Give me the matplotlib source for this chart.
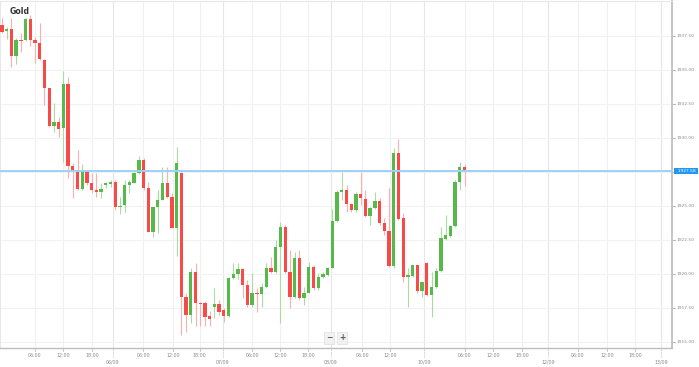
import numpy as np
import matplotlib
matplotlib.use("Agg")
import matplotlib.pyplot as plt

# ---- data (hourly candles) ----
opens = [1938.31, 1937.84, 1938.01, 1936.05, 1937.21, 1937.21, 1938.75, 1937.21, 1936.96, 1935.74,
         1933.65, 1930.91, 1931.20, 1930.71, 1933.97, 1927.96, 1927.52, 1926.25, 1927.52, 1926.67,
         1926.18, 1926.03, 1926.52, 1926.62, 1926.79, 1924.95, 1925.07, 1926.54, 1926.71, 1927.40,
         1928.38, 1926.30, 1923.11, 1924.90, 1925.44, 1926.67, 1925.64, 1923.41, 1927.45, 1918.33,
         1916.99, 1920.17, 1917.89, 1917.84, 1916.91, 1917.60, 1917.77, 1917.35, 1916.91, 1919.73,
         1919.98, 1920.34, 1919.16, 1917.69, 1918.63, 1918.51, 1919.07, 1920.42, 1920.17, 1922.01,
         1923.43, 1920.17, 1918.28, 1921.15, 1918.21, 1918.63, 1920.54, 1918.95, 1919.80, 1919.93,
         1920.47, 1923.90, 1926.05, 1926.18, 1925.15, 1924.71, 1925.86, 1925.51, 1924.29, 1924.88,
         1925.37, 1923.73, 1923.16, 1920.59, 1928.87, 1924.09, 1919.80, 1919.88, 1920.66, 1918.75,
         1920.83, 1918.46, 1919.07, 1920.22, 1922.55, 1922.79, 1923.53, 1926.74, 1927.84]
highs = [1938.80, 1938.19, 1938.80, 1937.33, 1937.70, 1938.80, 1939.04, 1937.45, 1938.43, 1935.78,
         1933.68, 1932.55, 1931.57, 1934.95, 1934.51, 1928.14, 1929.12, 1928.09, 1927.65, 1927.40,
         1927.45, 1926.67, 1926.79, 1926.91, 1926.91, 1925.68, 1926.91, 1926.91, 1927.52, 1928.67,
         1928.50, 1926.79, 1924.95, 1926.18, 1927.89, 1927.89, 1925.93, 1929.36, 1927.50, 1918.58,
         1920.42, 1920.83, 1917.97, 1918.01, 1917.28, 1918.95, 1918.09, 1917.48, 1919.80, 1920.78,
         1920.83, 1920.42, 1919.56, 1920.05, 1918.95, 1919.31, 1920.78, 1921.27, 1922.50, 1923.85,
         1923.60, 1921.76, 1921.64, 1921.76, 1919.07, 1920.91, 1920.66, 1920.05, 1920.17, 1920.54,
         1924.78, 1926.18, 1927.48, 1926.54, 1925.25, 1926.05, 1927.48, 1926.18, 1924.95, 1926.05,
         1925.56, 1924.09, 1926.30, 1929.24, 1929.93, 1924.46, 1920.42, 1920.66, 1920.66, 1919.44,
         1920.91, 1920.17, 1920.42, 1923.43, 1924.34, 1923.60, 1926.91, 1928.26, 1928.09]
lows = [1937.70, 1937.25, 1935.24, 1935.44, 1936.35, 1937.15, 1936.76, 1935.49, 1935.74, 1932.42,
        1930.83, 1930.46, 1930.10, 1928.26, 1927.03, 1925.56, 1926.18, 1926.18, 1926.54, 1925.98,
        1925.68, 1925.56, 1926.30, 1926.42, 1924.70, 1924.41, 1924.58, 1925.93, 1926.67, 1927.35,
        1926.18, 1923.11, 1922.74, 1923.04, 1925.44, 1925.56, 1923.36, 1921.32, 1915.51, 1915.76,
        1916.42, 1916.18, 1916.18, 1916.18, 1916.18, 1916.74, 1916.99, 1916.50, 1916.86, 1919.61,
        1919.61, 1918.21, 1917.60, 1917.60, 1917.23, 1917.60, 1918.95, 1920.05, 1920.05, 1916.40,
        1920.05, 1917.48, 1918.21, 1918.09, 1917.72, 1918.58, 1918.82, 1918.82, 1919.68, 1919.88,
        1920.42, 1923.85, 1925.44, 1924.58, 1924.58, 1924.58, 1925.07, 1924.22, 1923.60, 1924.75,
        1923.60, 1922.87, 1920.54, 1920.42, 1923.97, 1919.44, 1917.60, 1919.80, 1918.63, 1918.33,
        1918.38, 1916.86, 1918.95, 1920.17, 1922.50, 1922.74, 1923.48, 1926.18, 1926.47]
closes = [1937.82, 1937.99, 1936.05, 1937.21, 1937.13, 1938.75, 1937.21, 1936.96, 1935.78, 1933.65,
          1930.91, 1931.20, 1930.66, 1933.97, 1927.96, 1927.60, 1926.25, 1927.52, 1926.71, 1926.18,
          1926.03, 1926.22, 1926.67, 1926.79, 1924.95, 1925.02, 1926.54, 1926.74, 1927.40, 1928.38,
          1926.30, 1923.11, 1924.90, 1925.44, 1926.67, 1925.64, 1923.41, 1928.14, 1918.33, 1916.99,
          1920.17, 1917.84, 1917.79, 1916.86, 1916.69, 1917.77, 1917.23, 1916.91, 1919.68, 1919.98,
          1920.34, 1919.16, 1917.69, 1918.58, 1918.51, 1919.07, 1920.42, 1920.17, 1922.01, 1923.43,
          1920.17, 1918.28, 1921.15, 1918.21, 1918.63, 1920.54, 1918.95, 1919.80, 1919.98, 1920.47,
          1923.90, 1926.05, 1926.18, 1925.15, 1924.71, 1925.86, 1925.56, 1924.29, 1924.88, 1925.37,
          1923.73, 1923.16, 1920.59, 1928.87, 1924.04, 1919.75, 1919.93, 1920.66, 1918.75, 1919.39,
          1918.46, 1919.07, 1920.22, 1922.62, 1922.87, 1923.53, 1926.74, 1927.84, 1927.58]

# x-axis ticks (in candle-index units) and their labels
tick_pos = [7.0, 12.9, 19.1, 23.5, 29.9, 36.2, 41.9, 46.8, 53.0, 58.9, 64.8, 69.7,
            76.3, 82.2, 89.4, 98.1, 104.0, 110.2, 115.7, 122.0, 128.2, 134.1, 139.6]
tick_labels = ["06:00", "12:00", "18:00", "06/09", "06:00", "12:00", "18:00", "07/09",
               "06:00", "12:00", "18:00", "08/09", "06:00", "12:00", "10/09", "06:00",
               "12:00", "18:00", "12/09", "06:00", "12:00", "18:00", "13/09"]
y_ticks = [1915.0, 1917.5, 1920.0, 1922.5, 1925.0, 1927.5, 1930.0, 1932.5, 1935.0, 1937.5]
title = "Gold"
last_label = "1927.58"

# ---- drawing ----
W, H = 699, 367
fig = plt.figure(figsize=(W / 100, H / 100), dpi=100)
ax = fig.add_axes([0.0, 1 - 348 / H, 672 / W, 347 / H])

o = np.array(opens); c = np.array(closes); hi = np.array(highs); lo = np.array(lows)
x = np.arange(len(o))
up = c >= o
green, red = "#56b94a", "#f94a4a"
green_w, red_w = "#a9dba2", "#fbb0b0"

ax.vlines(x[up], lo[up], hi[up], color=green_w, lw=0.8, zorder=2)
ax.vlines(x[~up], lo[~up], hi[~up], color=red_w, lw=0.8, zorder=2)
body_h = np.maximum(np.abs(c - o), 0.08)
body_b = np.minimum(o, c)
ax.bar(x, body_h, bottom=body_b, width=0.7,
       color=[green if u else red for u in up], linewidth=0, zorder=3)

ax.set_xlim(-0.42, 141.95)
ax.set_ylim(1914.56, 1940.07)

# grid
day_labels = {"06/09", "07/09", "08/09", "10/09", "12/09", "13/09"}
for p, lab in zip(tick_pos, tick_labels):
    ax.axvline(p, color="#e6e6e6" if lab in day_labels else "#f0f0f0", lw=0.8, zorder=0)
for yv in y_ticks:
    ax.axhline(yv, color="#f2f2f2", lw=0.8, zorder=0)

# current price line
ax.axhline(c[-1], color="#9fd0f5", lw=1.4, zorder=4)

ax.set_xticks([])
ax.set_yticks([])
for s in ["left", "top"]:
    ax.spines[s].set_color("#e8e8e8")
    ax.spines[s].set_linewidth(0.8)
ax.spines["bottom"].set_color("#bdbdbd")
ax.spines["bottom"].set_linewidth(1.0)
ax.spines["right"].set_color("#c4c4c4")
ax.spines["right"].set_linewidth(1.4)

trans_y = ax.get_yaxis_transform()
trans_x = ax.get_xaxis_transform()
for yv in y_ticks:
    ax.plot([1.0, 1.005], [yv, yv], transform=trans_y, color="#aaaaaa", lw=0.6, clip_on=False)
    if abs(yv - c[-1]) < 1.0:
        continue  # hidden behind the current-price label
    ax.text(1.007, yv, f"{yv:.2f}", transform=trans_y, fontsize=3.2, color="#8a8a8a",
            va="center", ha="left")

for p, lab in zip(tick_pos, tick_labels):
    if lab in day_labels:
        ax.plot([p, p], [0, -0.028], transform=trans_x, color="#bbbbbb", lw=0.6,
                ls=(0, (1, 1)), clip_on=False)
        ax.text(p, -0.034, lab, transform=trans_x, fontsize=3.4, color="#8a8a8a",
                ha="center", va="top")
    else:
        ax.plot([p, p], [0, -0.01], transform=trans_x, color="#bbbbbb", lw=0.6, clip_on=False)
        ax.text(p, -0.013, lab, transform=trans_x, fontsize=3.4, color="#8a8a8a",
                ha="center", va="top")

# current price label box
ax.text(1.004, c[-1], "  " + last_label + " ", transform=trans_y, fontsize=3.2, color="white",
        va="center", ha="left",
        bbox=dict(boxstyle="square,pad=0.25", fc="#2196f3", ec="none"), zorder=6)

# title
fig.text(10 / W, 1 - 11 / H, title, fontsize=5.6, fontweight="bold", color="#333333",
         ha="left", va="center")

# zoom buttons
for xp, sym in [(329, "\u2212"), (342, "+")]:
    fig.text(xp / W, 1 - 338 / H, sym, fontsize=5.5, fontweight="bold", color="#555555",
             ha="center", va="center",
             bbox=dict(boxstyle="square,pad=0.2", fc="#f1f1f1", ec="#e0e0e0", lw=0.5))

fig.savefig("out.png", dpi=100, facecolor="white")
